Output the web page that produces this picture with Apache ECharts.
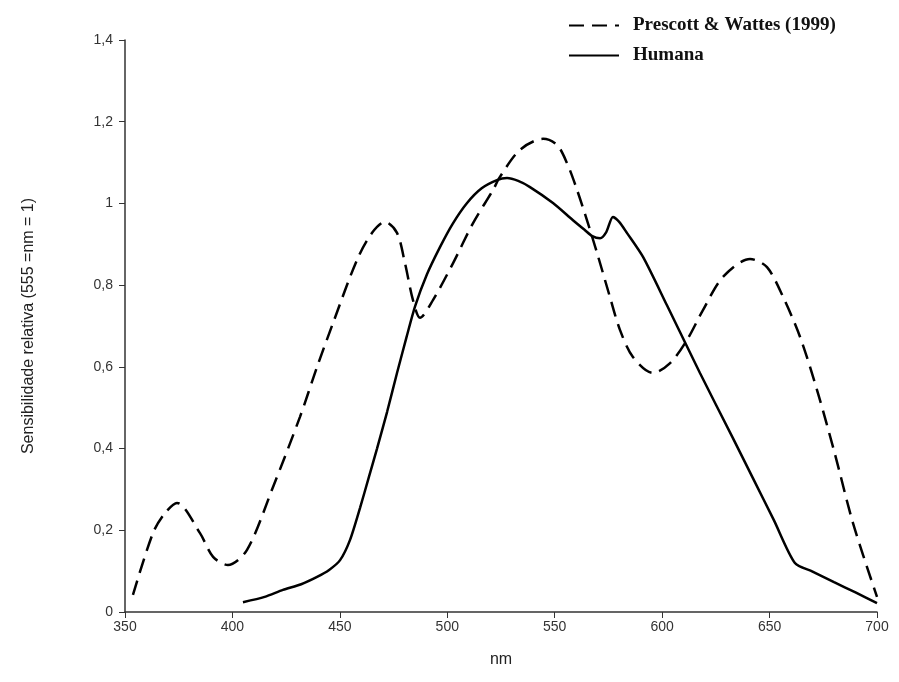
<!DOCTYPE html>
<html>
<head>
<meta charset="utf-8">
<script src="https://cdn.jsdelivr.net/npm/echarts@6/dist/echarts.min.js"></script>
<style>
  html, body { margin: 0; padding: 0; background: #fff; }
  #chart { width: 899px; height: 682px; }
</style>
</head>
<body>
<div id="chart"></div>
<script>
// curvas
const prescottNm = [353.7, 363, 368.6, 374.2, 384.9, 391, 397.9, 406.8, 418.9, 431.4, 439.4, 446.8, 458, 465, 471, 476.6, 480.3, 484, 487.3,
  493.4, 502.7, 512, 521.3, 524.5, 533.8, 544.6, 551.1, 555.7, 560.4, 565, 569.7, 575.7, 580.4, 586.4, 595.7, 603.7, 611.6, 619,
  628.3, 640.9, 648.8, 656.3, 664.2, 672.1, 680.5, 688.8, 700];
const prescottSens = [0.042, 0.193, 0.242, 0.267, 0.193, 0.135, 0.115, 0.152, 0.306, 0.477, 0.6, 0.707, 0.862, 0.928, 0.955, 0.928, 0.854, 0.764, 0.72,
  0.764, 0.854, 0.952, 1.033, 1.065, 1.131, 1.158, 1.143, 1.099, 1.033, 0.959, 0.879, 0.771, 0.69, 0.624, 0.585, 0.609, 0.666, 0.739,
  0.82, 0.864, 0.844, 0.771, 0.673, 0.543, 0.385, 0.218, 0.037];

const humanaNm = [404.9, 415, 423.5, 432, 439.4, 445, 450.1, 454.7, 459.4, 463.5, 467.3, 472, 476.6, 481, 485, 490.5, 496.6, 502.5, 509.2,
  516, 523.1, 527.8, 533, 538.5, 549.2, 558.5, 564, 567.5, 571.1, 574, 577.1, 580, 583.6, 591.1, 602.3, 617.6, 633, 642.3, 652, 661.8,
  670, 680, 690, 700];
const humanaSens = [0.024, 0.037, 0.054, 0.068, 0.086, 0.103, 0.127, 0.176, 0.255, 0.33, 0.4, 0.49, 0.585, 0.672, 0.748, 0.826, 0.893, 0.95, 1.001,
  1.037, 1.057, 1.062, 1.055, 1.04, 1.001, 0.959, 0.935, 0.92, 0.915, 0.93, 0.967, 0.955, 0.928, 0.869, 0.75, 0.585, 0.425, 0.327, 0.225, 0.12,
  0.099, 0.073, 0.048, 0.022];

const toPairs = (xs, ys) => xs.map((x, i) => [x, ys[i]]);

const chart = echarts.init(document.getElementById('chart'));

chart.setOption({
  animation: false,
  backgroundColor: '#fff',
  grid: { left: 125, right: 22, top: 40, bottom: 70 },
  legend: {
    orient: 'vertical',
    left: 563,
    top: 11,
    itemWidth: 50,
    itemHeight: 14,
    itemGap: 11,
    itemStyle: { opacity: 0 },
    textStyle: { fontFamily: 'Liberation Serif', fontWeight: 'bold', fontSize: 19, color: '#111', padding: [0, 0, 0, 9] },
    data: ['Prescott & Wattes (1999)', 'Humana']
  },
  xAxis: {
    type: 'value',
    min: 350,
    max: 700,
    interval: 50,
    name: 'nm',
    nameLocation: 'middle',
    nameGap: 40,
    nameTextStyle: { fontFamily: 'Liberation Sans', fontSize: 16, color: '#222' },
    axisLine: { lineStyle: { color: '#333', width: 1.5 } },
    axisTick: { length: 6, lineStyle: { color: '#333' } },
    axisLabel: { fontFamily: 'Liberation Sans', fontSize: 14, color: '#333', margin: 8 },
    splitLine: { show: false }
  },
  yAxis: {
    type: 'value',
    min: 0,
    max: 1.4,
    interval: 0.2,
    name: 'Sensibilidade relativa (555 =nm = 1)',
    nameLocation: 'middle',
    nameGap: 88,
    nameTextStyle: { fontFamily: 'Liberation Sans', fontSize: 16, color: '#222' },
    axisLine: { show: true, lineStyle: { color: '#333', width: 1.5 } },
    axisTick: { show: true, length: 6, lineStyle: { color: '#333' } },
    axisLabel: {
      fontFamily: 'Liberation Sans', fontSize: 14, color: '#333', margin: 12,
      formatter: v => String(Math.round(v * 10) / 10).replace('.', ',')
    },
    splitLine: { show: false }
  },
  series: [
    {
      name: 'Prescott & Wattes (1999)',
      type: 'line',
      smooth: 0.3,
      symbol: 'none',
      data: toPairs(prescottNm, prescottSens),
      lineStyle: { color: '#000', width: 2.5, type: [15, 8] },
      itemStyle: { color: '#000' }
    },
    {
      name: 'Humana',
      type: 'line',
      smooth: 0.25,
      symbol: 'none',
      data: toPairs(humanaNm, humanaSens),
      lineStyle: { color: '#000', width: 2.5 },
      itemStyle: { color: '#000' }
    }
  ]
});
</script>
</body>
</html>
